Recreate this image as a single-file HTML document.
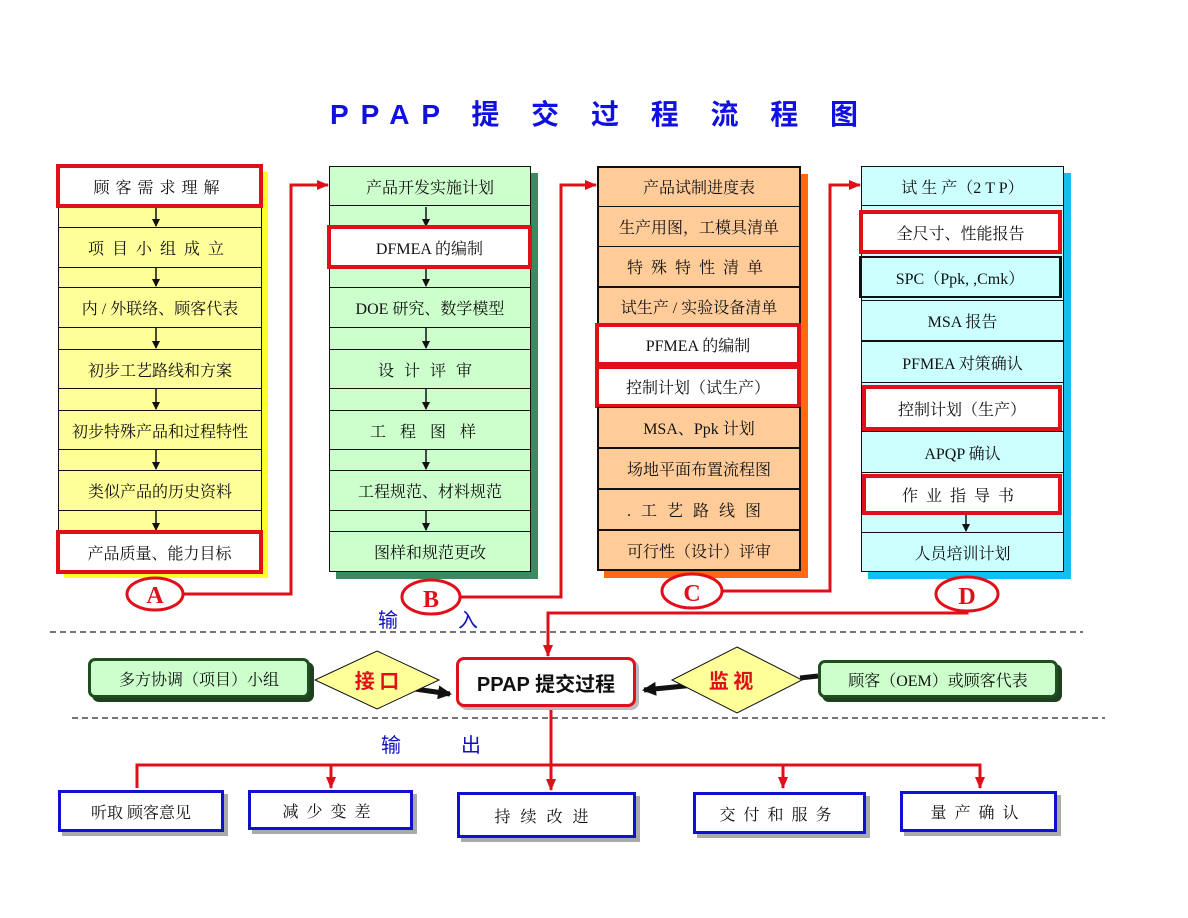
<!DOCTYPE html>
<html><head><meta charset="utf-8"><style>
body{margin:0;width:1188px;height:918px;background:#fff;position:relative;overflow:hidden;font-family:"Liberation Serif","Noto Serif CJK SC","Noto Sans CJK SC",serif;}
.b{position:absolute;box-sizing:border-box;display:flex;align-items:center;justify-content:center;font-size:16px;color:#111;white-space:nowrap;}
.r{border:4px solid #e0101a;background:#fff;}
.k{border:1px solid #111;}
</style></head><body>
<div class="b" style="left:0;top:90px;width:1188px;height:46px;font-family:'Liberation Sans','Noto Sans CJK SC',sans-serif;font-weight:bold;font-size:28px;color:#1010e0;letter-spacing:12px;padding-left:12px;">PPAP 提 交 过 程 流 程 图</div>

<!-- shadows -->
<div style="position:absolute;left:64px;top:172px;width:204px;height:406px;background:#ffff30"></div>
<div style="position:absolute;left:58px;top:166px;width:204px;height:406px;background:#ffff99;border:1px solid #111;box-sizing:border-box"></div>
<div style="position:absolute;left:336px;top:173px;width:202px;height:406px;background:#3a8a62"></div>
<div style="position:absolute;left:329px;top:166px;width:202px;height:406px;background:#ccffcc;border:1px solid #111;box-sizing:border-box"></div>
<div style="position:absolute;left:604px;top:174px;width:204px;height:404px;background:#ff6a10"></div>
<div style="position:absolute;left:597px;top:166px;width:204px;height:405px;background:#ffcc99;border:2px solid #111;box-sizing:border-box"></div>
<div style="position:absolute;left:868px;top:173px;width:203px;height:406px;background:#10c0f0"></div>
<div style="position:absolute;left:861px;top:166px;width:203px;height:406px;background:#ccffff;border:1px solid #111;box-sizing:border-box"></div>

<svg style="position:absolute;left:0;top:0" width="1188" height="918">
<defs><marker id="a" markerWidth="8" markerHeight="8" refX="7" refY="4" orient="auto" markerUnits="userSpaceOnUse"><path d="M0,0L8,4L0,8z" fill="#111"/></marker>
<marker id="ar" markerWidth="12" markerHeight="12" refX="11" refY="6" orient="auto" markerUnits="userSpaceOnUse"><path d="M0,1L12,6L0,11z" fill="#e0101a"/></marker>
<marker id="ab" markerWidth="14" markerHeight="14" refX="12" refY="7" orient="auto" markerUnits="userSpaceOnUse"><path d="M0,0L14,7L0,14z" fill="#111"/></marker></defs>
<g stroke="#111" stroke-width="1.5" marker-end="url(#a)">
<line x1="156" y1="207" x2="156" y2="226"/><line x1="156" y1="268" x2="156" y2="286"/><line x1="156" y1="328" x2="156" y2="348"/><line x1="156" y1="389" x2="156" y2="409"/><line x1="156" y1="450" x2="156" y2="469"/><line x1="156" y1="511" x2="156" y2="530"/>
<line x1="426" y1="207" x2="426" y2="226"/><line x1="426" y1="268" x2="426" y2="286"/><line x1="426" y1="328" x2="426" y2="348"/><line x1="426" y1="389" x2="426" y2="409"/><line x1="426" y1="450" x2="426" y2="469"/><line x1="426" y1="511" x2="426" y2="530"/>
<line x1="966" y1="515" x2="966" y2="531"/>
</g>
<g fill="none" stroke="#e0101a" stroke-width="3">
<polyline points="183,594 291,594 291,185 328,185" marker-end="url(#ar)"/>
<polyline points="460,597 561,597 561,185 596,185" marker-end="url(#ar)"/>
<polyline points="720,591 830,591 830,185 860,185" marker-end="url(#ar)"/>
<polyline points="967,611 967,613 548,613 548,656" marker-end="url(#ar)"/>
<polyline points="551,707 551,790" marker-end="url(#ar)"/>
<polyline points="137,788 137,765 980,765 980,788" marker-end="url(#ar)"/>
<line x1="331" y1="765" x2="331" y2="788" marker-end="url(#ar)"/>
<line x1="783" y1="765" x2="783" y2="788" marker-end="url(#ar)"/>
<ellipse cx="155" cy="594" rx="28" ry="16" fill="#fff"/>
<ellipse cx="431" cy="597" rx="29" ry="17" fill="#fff"/>
<ellipse cx="692" cy="591" rx="30" ry="17" fill="#fff"/>
<ellipse cx="967" cy="594" rx="31" ry="17" fill="#fff"/>
</g>
<g font-family="Liberation Serif,serif" font-weight="bold" font-size="24" fill="#e0101a" text-anchor="middle">
<text x="155" y="603">A</text><text x="431" y="607">B</text><text x="692" y="601">C</text><text x="967" y="604">D</text></g>
<g stroke="#222" stroke-width="1.3" stroke-dasharray="6,4"><line x1="50" y1="632" x2="1083" y2="632"/><line x1="72" y1="718" x2="1105" y2="718"/></g>
<g stroke="#111" stroke-width="5"><line x1="415" y1="689" x2="450" y2="694" marker-end="url(#ab)"/><line x1="705" y1="684" x2="644" y2="690" marker-end="url(#ab)"/><line x1="800" y1="678" x2="818" y2="676"/></g>
<polygon points="377,651 439,680 377,709 315,680" fill="#ffff99" stroke="#111"/>
<polygon points="737,647 802,680 737,713 672,680" fill="#ffff99" stroke="#111"/>
<g font-family="Noto Sans CJK SC,sans-serif" font-size="20" fill="#e0101a" text-anchor="middle" font-weight="bold"><text x="377" y="688">接 口</text><text x="731" y="688">监 视</text></g>
<g font-family="Noto Sans CJK SC,sans-serif" font-size="20" fill="#1010c0"><text x="378" y="627">输</text><text x="458" y="627">入</text><text x="381" y="752">输</text><text x="461" y="752">出</text></g>
</svg>

<!-- col A -->
<div class="b r" style="left:56px;top:164px;width:207px;height:44px;letter-spacing:6px">顾客需求理解</div>
<div class="b k" style="left:58px;top:227px;width:204px;height:41px;letter-spacing:8px">项目小组成立</div>
<div class="b k" style="left:58px;top:287px;width:204px;height:41px">内 / 外联络、顾客代表</div>
<div class="b k" style="left:58px;top:349px;width:204px;height:40px">初步工艺路线和方案</div>
<div class="b k" style="left:58px;top:410px;width:204px;height:40px">初步特殊产品和过程特性</div>
<div class="b k" style="left:58px;top:470px;width:204px;height:41px">类似产品的历史资料</div>
<div class="b r" style="left:56px;top:530px;width:207px;height:44px">产品质量、能力目标</div>
<!-- col B -->
<div class="b k" style="left:329px;top:166px;width:202px;height:40px">产品开发实施计划</div>
<div class="b r" style="left:327px;top:225px;width:205px;height:44px">DFMEA 的编制</div>
<div class="b k" style="left:329px;top:287px;width:202px;height:41px">DOE 研究、数学模型</div>
<div class="b k" style="left:329px;top:349px;width:202px;height:40px;letter-spacing:10px">设计评审</div>
<div class="b k" style="left:329px;top:410px;width:202px;height:40px;letter-spacing:14px">工程图样</div>
<div class="b k" style="left:329px;top:470px;width:202px;height:41px">工程规范、材料规范</div>
<div class="b k" style="left:329px;top:531px;width:202px;height:41px">图样和规范更改</div>
<!-- col C -->
<div class="b k" style="left:597px;top:166px;width:204px;height:41px">产品试制进度表</div>
<div class="b k" style="left:597px;top:206px;width:204px;height:41px">生产用图，工模具清单</div>
<div class="b k" style="left:597px;top:246px;width:204px;height:41px;letter-spacing:8px">特殊特性清单</div>
<div class="b k" style="left:597px;top:287px;width:204px;height:39px">试生产 / 实验设备清单</div>
<div class="b r" style="left:595px;top:323px;width:206px;height:43px">PFMEA 的编制</div>
<div class="b r" style="left:595px;top:365px;width:206px;height:43px">控制计划（试生产）</div>
<div class="b k" style="left:597px;top:407px;width:204px;height:41px">MSA、Ppk 计划</div>
<div class="b k" style="left:597px;top:448px;width:204px;height:41px">场地平面布置流程图</div>
<div class="b k" style="left:597px;top:489px;width:204px;height:41px;letter-spacing:10px">.工艺路线图</div>
<div class="b k" style="left:597px;top:530px;width:204px;height:41px">可行性（设计）评审</div>
<!-- col D -->
<div class="b k" style="left:861px;top:166px;width:203px;height:40px">试 生 产（2 T P）</div>
<div class="b r" style="left:859px;top:210px;width:203px;height:44px">全尺寸、性能报告</div>
<div class="b" style="left:859px;top:256px;width:203px;height:42px;border:2px solid #111;border-right-width:3px">SPC（Ppk, ,Cmk）</div>
<div class="b k" style="left:861px;top:300px;width:203px;height:41px">MSA 报告</div>
<div class="b k" style="left:861px;top:341px;width:203px;height:42px">PFMEA 对策确认</div>
<div class="b r" style="left:862px;top:385px;width:200px;height:46px">控制计划（生产）</div>
<div class="b k" style="left:861px;top:431px;width:203px;height:42px">APQP 确认</div>
<div class="b r" style="left:862px;top:474px;width:200px;height:41px;letter-spacing:8px">作业指导书</div>
<div class="b k" style="left:861px;top:532px;width:203px;height:40px">人员培训计划</div>

<!-- middle -->
<div class="b" style="left:92px;top:662px;width:222px;height:40px;background:#1f3f1f;border-radius:7px"></div>
<div class="b" style="left:88px;top:658px;width:222px;height:40px;background:#ccffcc;border:3px solid #1f4f1f;border-radius:7px">多方协调（项目）小组</div>
<div class="b" style="left:822px;top:664px;width:240px;height:38px;background:#1f3f1f;border-radius:7px"></div>
<div class="b" style="left:818px;top:660px;width:240px;height:38px;background:#ccffcc;border:3px solid #1f4f1f;border-radius:7px">顾客（OEM）或顾客代表</div>
<div class="b" style="left:456px;top:657px;width:180px;height:50px;background:#fff;border:3px solid #e0101a;border-radius:8px;font-family:'Liberation Sans','Noto Sans CJK SC',sans-serif;font-weight:bold;font-size:20px;box-shadow:3px 3px 0 #bbb">PPAP 提交过程</div>

<!-- outputs -->
<div class="b" style="left:58px;top:790px;width:166px;height:42px;border:3px solid #1010d0;background:#fff;box-shadow:4px 4px 0 #aaa">听取 顾客意见</div>
<div class="b" style="left:248px;top:790px;width:165px;height:40px;border:3px solid #1010d0;background:#fff;box-shadow:4px 4px 0 #aaa;letter-spacing:8px">减少变差</div>
<div class="b" style="left:457px;top:792px;width:179px;height:46px;border:3px solid #1010d0;background:#fff;box-shadow:4px 4px 0 #aaa;letter-spacing:10px">持续改进</div>
<div class="b" style="left:693px;top:792px;width:173px;height:42px;border:3px solid #1010d0;background:#fff;box-shadow:4px 4px 0 #aaa;letter-spacing:8px">交付和服务</div>
<div class="b" style="left:900px;top:791px;width:157px;height:41px;border:3px solid #1010d0;background:#fff;box-shadow:4px 4px 0 #aaa;letter-spacing:8px">量产确认</div>
</body></html>
